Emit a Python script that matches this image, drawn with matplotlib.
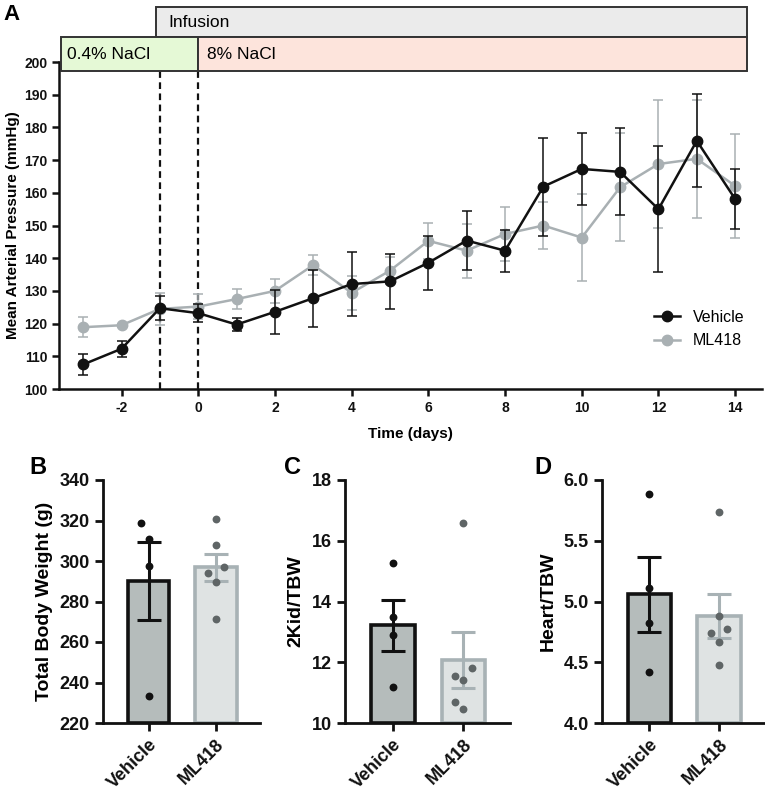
import numpy as np
import matplotlib
matplotlib.use("Agg")
import matplotlib.pyplot as plt
from matplotlib.patches import Rectangle
from matplotlib.lines import Line2D

plt.rcParams['font.family'] = ['Liberation Sans', 'DejaVu Sans']
plt.rcParams['axes.unicode_minus'] = False

# ---- panel A: mean arterial pressure over time ----
days = [-3, -2, -1, 0, 1, 2, 3, 4, 5, 6, 7, 8, 9, 10, 11, 12, 13, 14]
veh_map = [107.5, 112.3, 124.7, 123.2, 119.7, 123.6, 127.8, 132.1, 132.9, 138.6,
           145.4, 142.3, 161.9, 167.3, 166.4, 155.0, 175.9, 158.1]
veh_sem = [3.2, 2.4, 3.6, 2.7, 2.1, 6.8, 8.7, 9.8, 8.5, 8.3,
           8.9, 6.4, 15.0, 11.0, 13.3, 19.3, 14.2, 9.1]
ml_map = [118.9, 119.5, 124.5, 125.2, 127.5, 130.0, 137.9, 129.4, 136.2, 145.3,
          142.3, 147.4, 150.0, 146.3, 161.7, 168.8, 170.4, 162.1]
ml_sem = [3.1, 0.4, 4.8, 3.8, 3.0, 3.7, 3.0, 5.3, 4.2, 5.6,
          8.3, 8.3, 7.3, 13.4, 16.5, 19.6, 18.0, 16.0]

# ---- panels B-D: terminal measurements ----
groups = ['Vehicle', 'ML418']
tbw_veh = [318.7, 311.0, 297.6, 233.5]
tbw_ml = [320.9, 307.7, 294.0, 297.1, 289.7, 271.6]
kid_veh = [15.28, 13.5, 12.9, 11.2]
kid_ml = [16.58, 11.8, 11.4, 11.54, 10.68, 10.47]
heart_veh = [5.885, 5.112, 4.826, 4.422]
heart_ml = [5.739, 4.878, 4.744, 4.771, 4.67, 4.48]

BLACK = '#111111'
ML_LINE = '#a9b0b3'
VEH_FILL = '#b5bcbb'
ML_FILL = '#dfe3e3'
ML_EDGE = '#a8b2b5'
ML_DOT = '#5f6566'

W, H = 765, 801
fig = plt.figure(figsize=(W / 100, H / 100), dpi=100)


def ax_px(left, top, right, bottom):
    return fig.add_axes([left / W, 1 - bottom / H, (right - left) / W, (bottom - top) / H])


def style_spines(ax, lw):
    for s in ['top', 'right']:
        ax.spines[s].set_visible(False)
    for s in ['left', 'bottom']:
        ax.spines[s].set_linewidth(lw)
        ax.spines[s].set_color(BLACK)


# ---------------- A ----------------
ax = ax_px(59, 62, 762, 389)
ax.errorbar(days, ml_map, yerr=ml_sem, color=ML_LINE, marker='o', markersize=7.5,
            linewidth=1.8, elinewidth=1.1, capsize=3.8, capthick=1.1, zorder=3)
ax.errorbar(days, veh_map, yerr=veh_sem, color=BLACK, marker='o', markersize=7.5,
            linewidth=1.8, elinewidth=1.1, capsize=3.8, capthick=1.1, zorder=4)
ax.set_xlim(-3.63, 14.7)
ax.set_ylim(100, 200)
ax.set_xticks(range(-2, 15, 2))
ax.set_yticks(range(100, 201, 10))
style_spines(ax, 1.8)
ax.tick_params(width=1.8, length=5, labelsize=10, colors=BLACK)
for lab in ax.get_xticklabels() + ax.get_yticklabels():
    lab.set_fontweight('bold')
ax.set_xlabel('Time (days)', fontsize=11, fontweight='bold', labelpad=9)
ax.set_ylabel('Mean Arterial Pressure (mmHg)', fontsize=11, fontweight='bold', labelpad=3)

# dashed markers for start of salt diet / infusion
for xv in [-1, 0]:
    ax.plot([xv, xv], [100, 197.3], color=BLACK, linestyle=(0, (3, 2)), linewidth=1.6,
            zorder=2, clip_on=False)

# protocol boxes above the plot
ax.add_patch(Rectangle((-1.09, 207.6), 15.41, 9.3, facecolor='#ebebeb', edgecolor='#333333',
                       linewidth=1.4, clip_on=False, zorder=5))
ax.add_patch(Rectangle((-3.57, 197.3), 3.57, 10.3, facecolor='#e5f9d6', edgecolor='#333333',
                       linewidth=1.4, clip_on=False, zorder=5))
ax.add_patch(Rectangle((0, 197.3), 14.32, 10.3, facecolor='#fde4dc', edgecolor='#333333',
                       linewidth=1.4, clip_on=False, zorder=5))
ax.text(-0.78, 212.2, 'Infusion', fontsize=12.5, va='center', ha='left', zorder=6, clip_on=False)
ax.text(-3.43, 202.4, '0.4% NaCl', fontsize=12.5, va='center', ha='left', zorder=6, clip_on=False)
ax.text(0.24, 202.4, '8% NaCl', fontsize=12.5, va='center', ha='left', zorder=6, clip_on=False)

handles = [Line2D([], [], color=BLACK, marker='o', markersize=7.5, linewidth=1.8),
           Line2D([], [], color=ML_LINE, marker='o', markersize=7.5, linewidth=1.8)]
ax.legend(handles, groups, loc='lower right', bbox_to_anchor=(0.995, 0.08),
          frameon=False, fontsize=11.5, handlelength=1.6, handletextpad=0.8,
          labelspacing=0.55)

fig.text(3 / W, 1 - 15 / H, 'A', fontsize=16, fontweight='bold', va='center', ha='left')


# ---------------- B, C, D ----------------
def swarm(vals, tol, step=0.12):
    vals = np.asarray(vals, dtype=float)
    offs = np.zeros(len(vals))
    placed = []
    for i in np.argsort(vals):
        for cand in [0, -step, step, -2 * step, 2 * step]:
            if all(not (abs(o - cand) < 1e-9 and abs(v - vals[i]) < tol) for v, o in placed):
                offs[i] = cand
                break
        placed.append((vals[i], offs[i]))
    return offs


def bar_panel(rect, veh, ml, ylim, yticks, ylabel, letter, letter_x, tol, fmt='{:g}'):
    ax = ax_px(*rect)
    means = [np.mean(veh), np.mean(ml)]
    sems = [np.std(veh, ddof=1) / np.sqrt(len(veh)), np.std(ml, ddof=1) / np.sqrt(len(ml))]
    ax.bar([0], [means[0] - ylim[0]], bottom=ylim[0], width=0.62, color=VEH_FILL,
           edgecolor=BLACK, linewidth=2.6, zorder=2)
    ax.bar([1], [means[1] - ylim[0]], bottom=ylim[0], width=0.62, color=ML_FILL,
           edgecolor=ML_EDGE, linewidth=2.6, zorder=2)
    ax.errorbar([0], [means[0]], yerr=[sems[0]], color=BLACK, elinewidth=2.2,
                capsize=8.5, capthick=2.2, fmt='none', zorder=3)
    ax.errorbar([1], [means[1]], yerr=[sems[1]], color=ML_EDGE, elinewidth=2.2,
                capsize=8.5, capthick=2.2, fmt='none', zorder=3)
    ax.scatter(0 + swarm(veh, tol), veh, s=32, color=BLACK, zorder=4, linewidths=0)
    ax.scatter(1 + swarm(ml, tol), ml, s=32, color=ML_DOT, zorder=4, linewidths=0)
    ax.set_xlim(-0.68, 1.66)
    ax.set_ylim(*ylim)
    ax.set_yticks(yticks)
    ax.set_yticklabels([fmt.format(t) for t in yticks])
    ax.set_xticks([0, 1])
    ax.set_xticklabels(groups, rotation=45, ha='right', rotation_mode='anchor')
    style_spines(ax, 2.0)
    ax.tick_params(width=2.0, length=6, labelsize=13, colors=BLACK)
    for lab in ax.get_xticklabels() + ax.get_yticklabels():
        lab.set_fontweight('bold')
    ax.set_ylabel(ylabel, fontsize=14, fontweight='bold', labelpad=5)
    fig.text(letter_x / W, 1 - 467 / H, letter, fontsize=17, fontweight='bold',
             va='center', ha='left')
    return ax


bar_panel((103, 480, 260, 723), tbw_veh, tbw_ml, (220, 340), range(220, 341, 20),
          'Total Body Weight (g)', 'B', 29, 8)
bar_panel((345, 480, 510, 723), kid_veh, kid_ml, (10, 18), range(10, 19, 2),
          '2Kid/TBW', 'C', 284, 0.5)
bar_panel((602, 480, 765, 723), heart_veh, heart_ml, (4.0, 6.0), [4.0, 4.5, 5.0, 5.5, 6.0],
          'Heart/TBW', 'D', 534, 0.11, fmt='{:.1f}')

fig.savefig('out.png', dpi=100)
